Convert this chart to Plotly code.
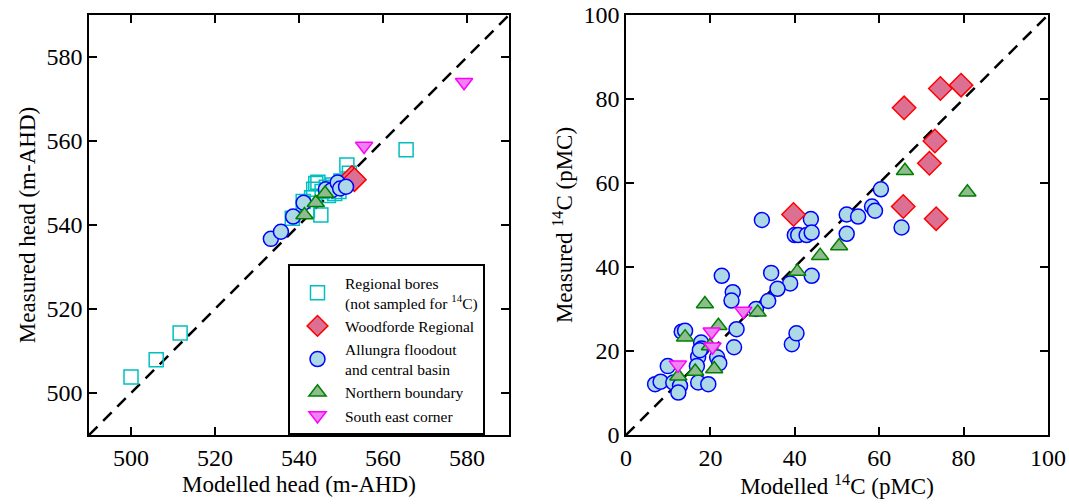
import plotly.graph_objects as go

# ---------------- Left panel: heads ----------------
reg_mod = [500.0, 506.0, 511.7, 565.5, 551.4, 552.0, 544.0, 543.5, 545.5, 547.0, 548.5, 549.5,
           545.2, 538.4, 541.0, 543.0, 546.5, 550.0, 544.5, 542.0, 548.0]
reg_meas = [503.8, 507.9, 514.3, 557.9, 554.3, 552.3, 549.9, 548.5, 548.0, 547.0, 547.5, 548.0,
            542.4, 541.6, 545.6, 546.5, 549.0, 550.5, 550.2, 543.5, 549.5]

wood_head_mod = [552.6, 553.2]
wood_head_meas = [551.3, 550.8]

all_head_mod = [533.3, 535.7, 538.6, 541.1, 546.4, 547.8, 549.2, 549.8, 551.2]
all_head_meas = [536.7, 538.4, 542.0, 545.3, 548.5, 548.3, 550.1, 548.7, 549.1]

nb_head_mod = [541.3, 544.0, 546.2]
nb_head_meas = [542.4, 545.3, 547.5]

se_head_mod = [555.5, 579.3]
se_head_meas = [558.8, 574.0]

# ---------------- Right panel: 14C ----------------
wood_c_mod = [39.7, 65.9, 74.5, 79.4, 73.2, 71.9, 65.7, 73.5]
wood_c_meas = [52.5, 77.9, 82.5, 83.3, 70.0, 64.7, 54.4, 51.5]

all_c_mod = [22.7, 25.3, 25.0, 13.2, 14.0, 26.2, 17.8, 17.9, 25.6, 21.6, 22.1, 17.1, 16.8, 9.9,
             6.9, 8.2, 11.2, 12.8, 12.4, 17.1, 19.5, 30.8, 39.3, 40.4, 32.2, 43.8, 40.0, 40.8,
             42.8, 44.0, 52.3, 55.0, 58.3, 59.0, 60.4, 52.3, 65.3, 44.0, 34.4, 38.9, 35.9, 33.7,
             17.5]
all_c_meas = [37.9, 34.0, 32.0, 24.6, 24.8, 25.2, 22.0, 20.6, 20.9, 18.5, 17.1, 18.6, 16.4, 16.4,
              12.1, 12.7, 12.5, 11.7, 10.1, 12.5, 12.1, 30.0, 21.6, 24.2, 51.2, 51.4, 47.6, 47.6,
              47.6, 48.2, 52.5, 52.0, 54.4, 53.4, 58.5, 47.9, 49.4, 37.9, 38.6, 36.1, 34.8, 31.9,
              20.2]

nb_c_mod = [18.7, 21.9, 14.0, 12.4, 16.4, 20.9, 31.2, 19.9, 40.6, 46.0, 50.5, 66.1, 80.9]
nb_c_meas = [31.2, 26.0, 23.3, 14.0, 15.1, 15.7, 29.2, 21.2, 38.9, 42.7, 45.0, 62.9, 57.8]

se_c_mod = [27.8, 20.3, 20.5, 12.3]
se_c_meas = [29.5, 24.6, 21.0, 16.7]

head_ticks = [500, 520, 540, 560, 580]
c_ticks = [0, 20, 40, 60, 80, 100]

FONT = "Liberation Serif, Times New Roman, serif"

styles = {
    "reg": dict(symbol="square-open", color="#00BFBF", size=14, line=dict(width=1.5, color="#00BFBF")),
    "wood": dict(symbol="diamond", color="#DB7093", size=18, line=dict(width=1.5, color="red")),
    "all": dict(symbol="circle", color="#ADD8E6", size=15, line=dict(width=1.5, color="blue")),
    "nb": dict(symbol="triangle-up", color="#8FBC8F", size=15, line=dict(width=1.5, color="green")),
    "se": dict(symbol="triangle-down", color="#EE82EE", size=15, line=dict(width=1.5, color="magenta")),
}
names = {
    "reg": "Regional bores<br>(not sampled for <sup>14</sup>C)",
    "wood": "Woodforde Regional",
    "all": "Allungra floodout<br>and central basin",
    "nb": "Northern boundary",
    "se": "South east corner",
}

fig = go.Figure()

# 1:1 lines
fig.add_trace(go.Scatter(x=[490, 590], y=[490, 590], mode="lines",
                         line=dict(color="black", width=2.5, dash="12px,8px"),
                         showlegend=False, xaxis="x", yaxis="y", hoverinfo="skip"))
fig.add_trace(go.Scatter(x=[0, 100], y=[0, 100], mode="lines",
                         line=dict(color="black", width=2.5, dash="12px,8px"),
                         showlegend=False, xaxis="x2", yaxis="y2", hoverinfo="skip"))

left = [("reg", reg_mod, reg_meas), ("wood", wood_head_mod, wood_head_meas),
        ("all", all_head_mod, all_head_meas), ("nb", nb_head_mod, nb_head_meas),
        ("se", se_head_mod, se_head_meas)]
for key, xs, ys in left:
    fig.add_trace(go.Scatter(x=xs, y=ys, mode="markers", name=names[key],
                             marker=styles[key], xaxis="x", yaxis="y", showlegend=True))

right = [("all", all_c_mod, all_c_meas), ("nb", nb_c_mod, nb_c_meas),
         ("se", se_c_mod, se_c_meas), ("wood", wood_c_mod, wood_c_meas)]
for key, xs, ys in right:
    fig.add_trace(go.Scatter(x=xs, y=ys, mode="markers", name=names[key],
                             marker=styles[key], xaxis="x2", yaxis="y2", showlegend=False))

axis_common = dict(showline=True, linecolor="black", linewidth=1.5, mirror="ticks",
                   ticks="inside", ticklen=8, tickwidth=1.5, tickcolor="black",
                   showgrid=False, zeroline=False,
                   tickfont=dict(family=FONT, size=24, color="black"))

W, H = 1069, 504
ml, mr, mt, mb = 89, 21, 15, 69
pw = W - ml - mr
TS = 23
fig.update_layout(
    width=W, height=H,
    margin=dict(l=ml, r=mr, t=mt, b=mb, autoexpand=False),
    paper_bgcolor="white", plot_bgcolor="white",
    font=dict(family=FONT, color="black"),
    xaxis=dict(domain=[0, 420 / pw], range=[490, 590], tickvals=head_ticks,
               title=dict(text="Modelled head (m-AHD)", font=dict(family=FONT, size=TS), standoff=6),
               **axis_common),
    yaxis=dict(domain=[0, 1], range=[490, 590], tickvals=head_ticks,
               title=dict(text="Measured head (m-AHD)", font=dict(family=FONT, size=TS), standoff=4),
               **axis_common),
    xaxis2=dict(domain=[(626 - ml) / pw, 1], range=[0, 100], tickvals=c_ticks, anchor="y2",
                title=dict(text="Modelled <sup>14</sup>C (pMC)", font=dict(family=FONT, size=TS), standoff=6),
                **axis_common),
    yaxis2=dict(domain=[0, 1], range=[0, 100], tickvals=c_ticks, anchor="x2",
                title=dict(text="Measured <sup>14</sup>C (pMC)", font=dict(family=FONT, size=TS), standoff=4),
                **axis_common),
    legend=dict(x=(288 - ml) / pw, y=(435 - 264) / 420, xanchor="left", yanchor="top",
                bgcolor="white", bordercolor="black", borderwidth=2, itemwidth=45,
                font=dict(family=FONT, size=15.5, color="black"), tracegroupgap=0),
)

fig.write_html("out.html")
